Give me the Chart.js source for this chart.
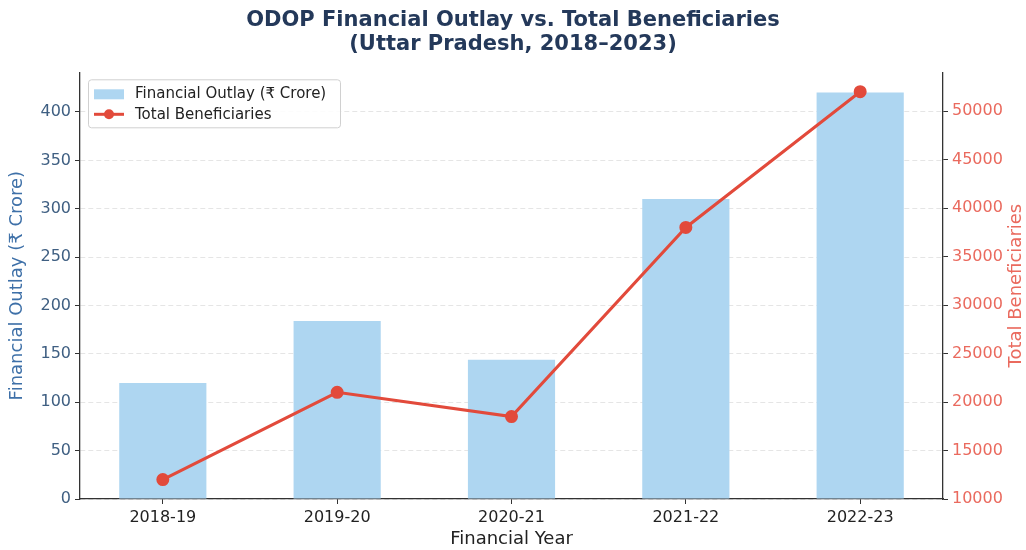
<!DOCTYPE html>
<html>
<head>
<meta charset="utf-8">
<script src="https://cdn.jsdelivr.net/npm/chart.js@4/dist/chart.umd.min.js"></script>
<style>
  html, body { margin: 0; padding: 0; background: #fff; }
  #wrap { width: 1026px; height: 550px; }
</style>
</head>
<body>
<div id="wrap"><canvas id="odop-chart" width="1026" height="550"></canvas></div>
<script>
const years = ['2018-19', '2019-20', '2020-21', '2021-22', '2022-23'];
const outlay = [120, 184, 144, 310, 420];          // ₹ crore
const beneficiaries = [12000, 21000, 18500, 38000, 52000];
const outlayTicks = [0, 50, 100, 150, 200, 250, 300, 350, 400];
const beneficiaryTicks = [10000, 15000, 20000, 25000, 30000, 35000, 40000, 45000, 50000];
const outlayRange = [0, 441];
const beneficiaryRange = [10000, 54000];

const BAR = '#aed6f1';
const LINE = '#e24a3b';
const FONT = 'DejaVu Sans';

Chart.defaults.font.family = FONT;
Chart.defaults.color = '#222';

// legend sits inside the plot, top-left, like a boxed matplotlib legend
const boxedLegend = {
  id: 'boxedLegend',
  afterDraw(chart) {
    const { ctx, chartArea } = chart;
    const x = chartArea.left + 8, y = chartArea.top + 7;
    const w = 252, h = 48;
    const ds = chart.data.datasets;
    const barDs = ds.find(d => d.type === 'bar');
    const lineDs = ds.find(d => d.type === 'line');
    ctx.save();
    ctx.fillStyle = 'rgba(255,255,255,0.85)';
    ctx.strokeStyle = '#d0d0d0';
    ctx.lineWidth = 1;
    ctx.beginPath();
    ctx.roundRect(x + 0.5, y + 0.5, w, h, 3);
    ctx.fill();
    ctx.stroke();

    ctx.font = '15px ' + FONT;
    ctx.textBaseline = 'middle';

    // bar swatch
    ctx.fillStyle = BAR;
    ctx.fillRect(x + 6, y + 10, 30, 10);
    ctx.fillStyle = '#222';
    ctx.fillText(barDs.label, x + 47, y + 15);
    // line swatch
    ctx.strokeStyle = LINE;
    ctx.lineWidth = 3;
    ctx.beginPath();
    ctx.moveTo(x + 6, y + 35);
    ctx.lineTo(x + 36, y + 35);
    ctx.stroke();
    ctx.fillStyle = LINE;
    ctx.beginPath();
    ctx.arc(x + 21, y + 35, 5, 0, Math.PI * 2);
    ctx.fill();
    ctx.fillStyle = '#222';
    ctx.fillText(lineDs.label, x + 47, y + 36);
    ctx.restore();
  }
};

// right axis title reads bottom-to-top
const rightTitle = {
  id: 'rightTitle',
  afterDraw(chart) {
    const { ctx, chartArea } = chart;
    ctx.save();
    ctx.translate(1016, (chartArea.top + chartArea.bottom) / 2);
    ctx.rotate(-Math.PI / 2);
    ctx.font = '18px ' + FONT;
    ctx.fillStyle = '#ea6a5e';
    ctx.textAlign = 'center';
    ctx.textBaseline = 'middle';
    ctx.fillText('Total Beneficiaries', 0, 0);
    ctx.restore();
  }
};

new Chart(document.getElementById('odop-chart'), {
  data: {
    datasets: [
      {
        type: 'line',
        label: 'Total Beneficiaries',
        data: beneficiaries.map((v, i) => ({ x: i, y: v })),
        yAxisID: 'yRight',
        borderColor: LINE,
        backgroundColor: LINE,
        borderWidth: 3,
        pointRadius: 5,
        pointHoverRadius: 5,
        tension: 0,
        order: 0
      },
      {
        type: 'bar',
        label: 'Financial Outlay (₹ Crore)',
        data: outlay.map((v, i) => ({ x: i, y: v })),
        yAxisID: 'yLeft',
        backgroundColor: BAR,
        barPercentage: 0.5,
        categoryPercentage: 1,
        order: 1
      }
    ]
  },
  options: {
    responsive: false,
    animation: false,
    layout: { padding: 0 },
    plugins: {
      legend: { display: false },
      tooltip: { enabled: false },
      title: {
        display: true,
        text: ['ODOP Financial Outlay vs. Total Beneficiaries', '(Uttar Pradesh, 2018–2023)'],
        color: '#24395a',
        font: { size: 21, weight: 'bold', lineHeight: 1.15 },
        padding: { top: 8, bottom: 16 }
      }
    },
    scales: {
      x: {
        type: 'linear',
        offset: false,
        min: -0.475,
        max: years.length - 1 + 0.475,
        afterBuildTicks(scale) { scale.ticks = years.map((_, i) => ({ value: i })); },
        afterFit(scale) { scale.height = 51; },
        ticks: {
          callback: v => years[v],
          color: '#222',
          font: { size: 16 },
          padding: 4,
          maxRotation: 0,
          autoSkip: false
        },
        grid: { offset: false, drawOnChartArea: false, tickLength: 5, tickColor: '#333' },
        border: { color: '#333', width: 1.3 },
        title: {
          display: true,
          text: 'Financial Year',
          color: '#222',
          font: { size: 18 },
          padding: { top: 0, bottom: 0 }
        }
      },
      yLeft: {
        type: 'linear',
        position: 'left',
        min: outlayRange[0],
        max: outlayRange[1],
        afterBuildTicks(scale) { scale.ticks = outlayTicks.map(v => ({ value: v })); },
        afterFit(scale) { scale.width = 80; },
        ticks: {
          callback: v => String(v),
          color: '#3f5f82',
          font: { size: 16 },
          padding: 4
        },
        grid: {
          color: 'rgba(0,0,0,0.10)',
          tickColor: '#333',
          tickLength: 5,
          tickBorderDash: []
        },
        border: { color: '#333', width: 1.3, dash: [5, 3] },
        title: {
          display: true,
          text: 'Financial Outlay (₹ Crore)',
          color: '#3e70a8',
          font: { size: 18 },
          padding: { top: 7, bottom: 0 }
        }
      },
      yRight: {
        type: 'linear',
        position: 'right',
        min: beneficiaryRange[0],
        max: beneficiaryRange[1],
        afterBuildTicks(scale) { scale.ticks = beneficiaryTicks.map(v => ({ value: v })); },
        afterFit(scale) { scale.width = 83; },
        ticks: {
          callback: v => String(v),
          color: '#ea6a5e',
          font: { size: 16 },
          padding: 4
        },
        grid: { drawOnChartArea: false, tickLength: 5, tickColor: '#333' },
        border: { color: '#333', width: 1.3 }
      }
    }
  },
  plugins: [boxedLegend, rightTitle]
});
</script>
</body>
</html>
